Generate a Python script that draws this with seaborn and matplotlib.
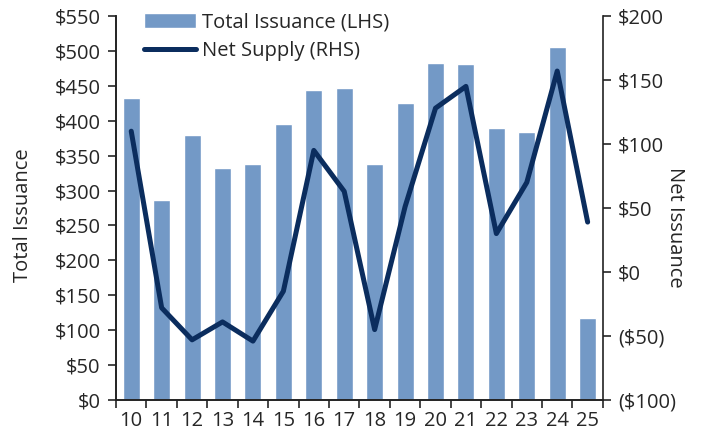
import numpy as np
import pandas as pd
import matplotlib
matplotlib.use("Agg")
import matplotlib.pyplot as plt
import seaborn as sns
from matplotlib.ticker import FuncFormatter, FixedLocator, NullFormatter

# chart values
years = ["10", "11", "12", "13", "14", "15", "16", "17",
         "18", "19", "20", "21", "22", "23", "24", "25"]
total_issuance = [433, 287, 379, 333, 338, 396, 444, 447,
                  338, 425, 483, 481, 390, 384, 506, 118]
net_supply = [110, -28, -53, -39, -54, -15, 95, 63,
              -45, 51, 128, 145, 30, 70, 157, 39]

df = pd.DataFrame({"year": years, "total": total_issuance, "net": net_supply})
df["pos"] = np.arange(len(df))

sns.set_style("white")
plt.rcParams["font.family"] = ["Open Sans", "DejaVu Sans"]
fs = 14.5

bar_color = "#7399C6"
line_color = "#0B2D5E"

fig = plt.figure(figsize=(7.01, 4.41), dpi=100)
ax = fig.add_axes([0.1655, 0.093, 0.6945, 0.8707])

sns.barplot(data=df, x="year", y="total", color=bar_color, width=0.56,
            saturation=1, ax=ax, label="Total Issuance (LHS)")
ax.set_xlim(-0.5, len(years) - 0.5)
ax.set_ylim(0, 550)
ax.set_yticks(np.arange(0, 551, 50))
ax.yaxis.set_major_formatter(FuncFormatter(lambda v, p: f"${v:.0f}"))

# ticks between the categories, labels in the middle
ax.xaxis.set_major_locator(FixedLocator(np.arange(-0.5, len(years), 1.0)))
ax.xaxis.set_major_formatter(NullFormatter())
ax.xaxis.set_minor_locator(FixedLocator(df["pos"].values))
ax.set_xticklabels(years, minor=True)
ax.tick_params(axis="x", which="minor", length=0, labelsize=fs, pad=8)
ax.tick_params(axis="x", which="major", length=6, width=1.2, direction="out", bottom=True)
ax.tick_params(axis="y", length=6, width=1.2, direction="out", left=True, labelsize=fs, pad=5)
ax.set_xlabel("")
ax.set_ylabel("Total Issuance", fontsize=fs)
ax.yaxis.set_label_coords(-0.17, 0.48)

ax2 = ax.twinx()
sns.lineplot(data=df, x="pos", y="net", color=line_color, lw=3.6, ax=ax2,
             label="Net Supply (RHS)", legend=False)
ax2.set_ylim(-100, 200)
ax2.set_yticks(np.arange(-100, 201, 50))
ax2.yaxis.set_major_formatter(
    FuncFormatter(lambda v, p: f"(${abs(v):.0f})" if v < 0 else f"${v:.0f}"))
ax2.tick_params(axis="y", length=6, width=1.2, direction="out", right=True, labelsize=fs, pad=5)
ax2.set_ylabel("Net Issuance", fontsize=fs, rotation=270, va="center")
ax2.yaxis.set_label_coords(1.148, 0.45)
ax2.set_xlim(-0.5, len(years) - 0.5)

for a in (ax, ax2):
    a.spines["top"].set_visible(False)
    for s in ("left", "right", "bottom"):
        a.spines[s].set_color("#222222")
        a.spines[s].set_linewidth(1.2)
ax.spines["right"].set_visible(False)

h1, l1 = ax.get_legend_handles_labels()
h2, l2 = ax2.get_legend_handles_labels()
if ax.get_legend():
    ax.get_legend().remove()
leg = ax2.legend(h1 + h2, l1 + l2, loc="upper left", bbox_to_anchor=(0.04, 1.03),
                 frameon=False, fontsize=fs, handlelength=2.6, handletextpad=0.3,
                 labelspacing=0.4, borderaxespad=0)

fig.savefig("out.png", dpi=100)
